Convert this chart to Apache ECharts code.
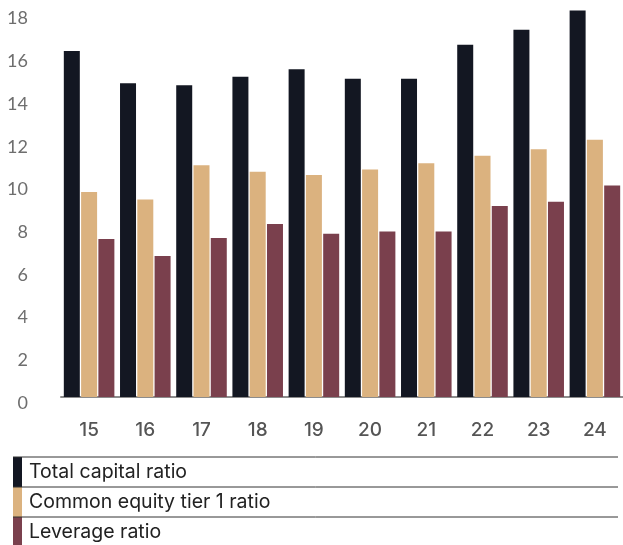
<!DOCTYPE html>
<html>
<head>
<meta charset="utf-8">
<script src="https://cdn.jsdelivr.net/npm/echarts@6/dist/echarts.min.js"></script>
<style>html,body{margin:0;padding:0;background:#fff;}#c{width:623px;height:545px;}</style>
</head>
<body>
<div id="c"></div>
<script>
const categories = ['15','16','17','18','19','20','21','22','23','24'];
const seriesNames = ['Total capital ratio','Common equity tier 1 ratio','Leverage ratio'];
const totalCapital = [16.2, 14.7, 14.6, 15.0, 15.35, 14.9, 14.9, 16.5, 17.2, 18.1];
const cet1 = [9.6, 9.25, 10.85, 10.55, 10.4, 10.65, 10.95, 11.3, 11.6, 12.05];
const leverage = [7.4, 6.6, 7.45, 8.1, 7.65, 7.75, 7.75, 8.95, 9.15, 9.9];
const yTicks = [0,2,4,6,8,10,12,14,16,18];
const colors = ['#131722','#dbb27f','#7a404d'];

const chart = echarts.init(document.getElementById('c'));
const legendGraphics = [];
const rowTop = 457, rowH = 30;
seriesNames.forEach((name, i) => {
  const y0 = rowTop + i * rowH;
  legendGraphics.push({type:'rect', shape:{x:13, y:y0, width:9, height: i===2 ? 545-y0 : rowH}, style:{fill:colors[i]}});
  legendGraphics.push({type:'line', shape:{x1:13, y1:y0, x2:618, y2:y0}, style:{stroke:'#333', lineWidth:1}});
  legendGraphics.push({type:'text', style:{text:name, x:29, y:y0+15, textVerticalAlign:'middle', font:'19.5px Inter, "Noto Sans", sans-serif', fill:'#222'}});
});

chart.setOption({
  animation:false,
  grid:{left:61, right:0, top:2, bottom:148, containLabel:false},
  xAxis:{type:'category', data:categories,
    axisLine:{lineStyle:{color:'#8c8c8c', width:2}}, axisTick:{show:false},
    axisLabel:{color:'#555', fontSize:19, margin:24, fontFamily:'Inter, "Noto Sans", sans-serif', fontWeight:500}},
  yAxis:{type:'value', min:0, max:18.5, interval:2, splitLine:{show:false},
    axisLine:{show:false}, axisTick:{show:false},
    axisLabel:{color:'#6e6e6e', fontSize:18, margin:33, verticalAlign:'top', lineHeight:12, showMaxLabel:false,
      fontFamily:'Lato, "Noto Sans", sans-serif',
      formatter: v => yTicks.includes(v) ? String(v) : ''}},
  series:[
    {name:seriesNames[0], type:'bar', data:totalCapital, barWidth:16, barGap:'8%', itemStyle:{color:colors[0]}},
    {name:seriesNames[1], type:'bar', data:cet1, barWidth:16, barGap:'8%', itemStyle:{color:colors[1]}},
    {name:seriesNames[2], type:'bar', data:leverage, barWidth:16, barGap:'8%', itemStyle:{color:colors[2]}}
  ],
  graphic: legendGraphics
});
</script>
</body>
</html>
